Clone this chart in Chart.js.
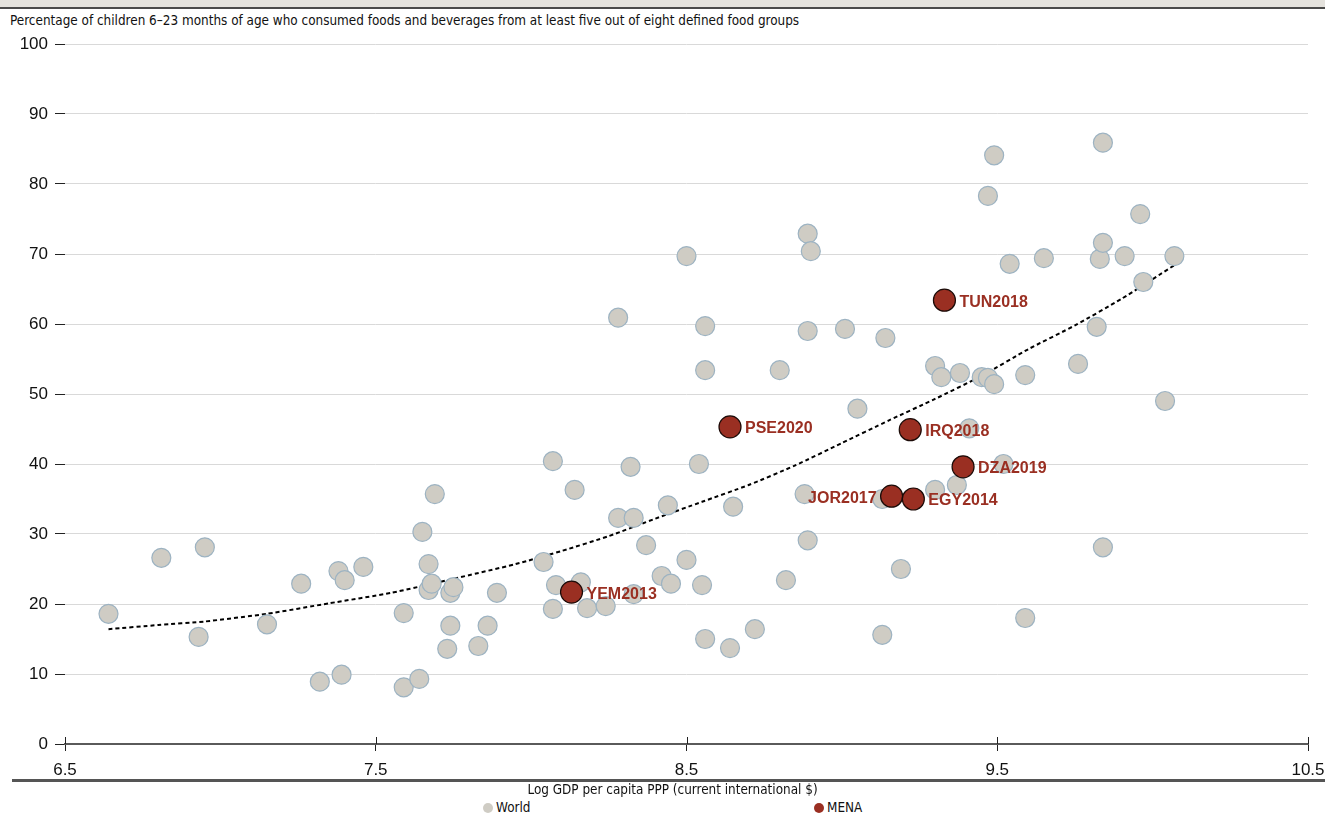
<!DOCTYPE html>
<html>
<head>
<meta charset="utf-8">
<script src="https://cdn.jsdelivr.net/npm/chart.js@4.4.1/dist/chart.umd.min.js"></script>
<style>
  body { margin: 0; background: #fff; width: 1325px; height: 817px; position: relative; overflow: hidden; font-family: "Liberation Sans", Arial, sans-serif; }
  #topband { position: absolute; left: 0; top: 0; width: 1325px; height: 7px; background: #e4e2dd; border-bottom: 2px solid #4a4a4a; }
  .narrow { font-family: "Liberation Sans Narrow", "DejaVu Sans Condensed", sans-serif; color: #111; }
  #subtitle { position: absolute; left: 10px; top: 13px; font-size: 13.4px; white-space: nowrap; }
  #wrap { position: absolute; left: 0; top: 28px; width: 1325px; height: 752px; }
  #rule { position: absolute; left: 12px; top: 779px; width: 1313px; height: 0; border-top: 3px solid #555; }
  #xtitle { position: absolute; left: 0; width: 1345px; top: 782px; text-align: center; font-size: 13.4px; }
  .leg { position: absolute; top: 800px; font-size: 13.4px; white-space: nowrap; }
  .dot { display: inline-block; width: 10px; height: 10px; border-radius: 50%; vertical-align: -1px; margin-right: 3px; }
</style>
</head>
<body>
<div id="topband"></div>
<div id="subtitle" class="narrow">Percentage of children 6–23 months of age who consumed foods and beverages from at least five out of eight defined food groups</div>
<div id="wrap"><canvas id="chart"></canvas></div>
<div id="rule"></div>
<div id="xtitle" class="narrow">Log GDP per capita PPP (current international $)</div>
<div class="leg narrow" style="left:483px"><span class="dot" style="background:#cfccc4"></span>World</div>
<div class="leg narrow" style="left:814px"><span class="dot" style="background:#9a2f22"></span>MENA</div>

<script>
// World countries: log GDP per capita vs share meeting minimum dietary diversity
const worldX = [6.64, 6.81, 6.95, 6.93, 7.15, 7.26, 7.32, 7.38, 7.40, 7.39, 7.46, 7.59, 7.59, 7.64, 7.65, 7.67, 7.67, 7.68, 7.69, 7.73,
  7.74, 7.74, 7.75, 7.83, 7.86, 7.89, 8.04, 8.07, 8.07, 8.08, 8.14, 8.16, 8.18, 8.24, 8.28, 8.28, 8.32, 8.33, 8.33, 8.37,
  8.42, 8.44, 8.45, 8.50, 8.50, 8.54, 8.55, 8.56, 8.56, 8.56, 8.64, 8.65, 8.72, 8.80, 8.82, 8.88, 8.89, 8.89, 8.89, 8.90,
  9.01, 9.05, 9.13, 9.14, 9.13, 9.19, 9.30, 9.30, 9.32, 9.37, 9.38, 9.41, 9.45, 9.47, 9.47, 9.49, 9.49, 9.52, 9.54, 9.59,
  9.59, 9.65, 9.76, 9.82, 9.83, 9.84, 9.84, 9.84, 9.91, 9.96, 9.97, 10.04, 10.07];
const worldY = [18.6, 26.6, 28.1, 15.3, 17.1, 22.9, 8.9, 24.7, 23.4, 9.9, 25.3, 18.7, 8.1, 9.3, 30.3, 25.7, 22.0, 22.9, 35.7, 13.6,
  16.9, 21.6, 22.4, 14.0, 16.9, 21.6, 26.0, 40.4, 19.3, 22.7, 36.3, 23.1, 19.4, 19.7, 32.3, 60.9, 39.6, 21.4, 32.3, 28.4,
  24.0, 34.1, 22.9, 26.3, 69.7, 40.0, 22.7, 15.0, 59.7, 53.4, 13.7, 33.9, 16.4, 53.4, 23.4, 35.7, 29.1, 59.0, 72.9, 70.4,
  59.3, 47.9, 15.6, 58.0, 35.0, 25.0, 54.0, 36.3, 52.4, 37.0, 53.0, 45.1, 52.4, 78.3, 52.3, 84.1, 51.4, 40.0, 68.6, 52.7,
  18.0, 69.4, 54.3, 59.6, 69.3, 71.6, 85.9, 28.1, 69.7, 75.7, 66.0, 49.0, 69.7];

// MENA countries, labelled with survey year
const menaLabels = ['YEM2013', 'PSE2020', 'JOR2017', 'IRQ2018', 'EGY2014', 'TUN2018', 'DZA2019'];
const menaX = [8.13, 8.64, 9.16, 9.22, 9.23, 9.33, 9.39];
const menaY = [21.7, 45.3, 35.4, 44.9, 35.0, 63.4, 39.6];

// fitted trend line
const trendX = [6.64, 6.80, 6.95, 7.15, 7.35, 7.55, 7.75, 7.95, 8.10, 8.25, 8.40, 8.55, 8.70, 8.85, 9.00, 9.15, 9.30, 9.45, 9.60, 9.75, 9.90, 10.07];
const trendY = [16.4, 17.0, 17.5, 18.6, 20.1, 21.6, 23.6, 25.7, 27.6, 29.7, 32.2, 34.6, 37.0, 39.8, 43.0, 46.2, 49.3, 52.6, 56.4, 59.8, 63.6, 68.4];

const yTicks = [0, 10, 20, 30, 40, 50, 60, 70, 80, 90, 100];
const xTicks = [6.5, 7.5, 8.5, 9.5, 10.5];

const red = '#9a2f22';
const leftLabels = ['JOR2017'];
const tickFont = { family: '"Liberation Sans", Arial, sans-serif', size: 17 };

const pointLabels = {
    id: 'pointLabels',
    afterDatasetsDraw(chart) {
        const meta = chart.getDatasetMeta(0);
        const ctx = chart.ctx;
        ctx.save();
        ctx.font = 'bold 16px "Liberation Sans", Arial, sans-serif';
        ctx.fillStyle = red;
        ctx.textBaseline = 'middle';
        meta.data.forEach((pt, i) => {
            const name = menaLabels[i];
            if (leftLabels.includes(name)) {
                ctx.textAlign = 'right';
                ctx.fillText(name, pt.x - 15, pt.y + 2);
            } else {
                ctx.textAlign = 'left';
                ctx.fillText(name, pt.x + 15, pt.y + 2);
            }
        });
        ctx.restore();
    }
};

// x tick marks cross the axis line, as in the source figure
const crossTicks = {
    id: 'crossTicks',
    afterDraw(chart) {
        const xs = chart.scales.x;
        const ctx = chart.ctx;
        ctx.save();
        ctx.strokeStyle = '#222';
        ctx.lineWidth = 1;
        xs.ticks.forEach(t => {
            const px = Math.round(xs.getPixelForValue(t.value)) + 0.5;
            ctx.beginPath();
            ctx.moveTo(px, xs.top - 7);
            ctx.lineTo(px, xs.top);
            ctx.stroke();
        });
        ctx.restore();
    }
};

new Chart(document.getElementById('chart'), {
    type: 'scatter',
    data: {
        datasets: [{
            label: 'MENA',
            data: menaX.map((x, i) => ({ x: x, y: menaY[i] })),
            backgroundColor: red,
            borderColor: '#1b0b08',
            borderWidth: 1.2,
            pointRadius: 11,
            pointHoverRadius: 11,
            order: 1
        }, {
            label: 'World',
            data: worldX.map((x, i) => ({ x: x, y: worldY[i] })),
            backgroundColor: '#cfccc4',
            borderColor: '#9db3c2',
            borderWidth: 1.2,
            pointRadius: 9.5,
            pointHoverRadius: 9.5,
            order: 2
        }, {
            label: 'Trend',
            type: 'line',
            data: trendX.map((x, i) => ({ x: x, y: trendY[i] })),
            borderColor: '#000',
            borderWidth: 2,
            borderDash: [4, 3],
            pointRadius: 0,
            fill: false,
            tension: 0.2,
            order: 3
        }]
    },
    options: {
        responsive: true,
        maintainAspectRatio: false,
        animation: false,
        layout: { padding: { top: 16, right: 17, bottom: 0, left: 0 } },
        plugins: { legend: { display: false }, tooltip: { enabled: false } },
        scales: {
            x: {
                type: 'linear',
                min: xTicks[0],
                max: xTicks[xTicks.length - 1],
                afterBuildTicks: s => { s.ticks = xTicks.map(v => ({ value: v })); },
                afterFit: s => { s.height = 36; s.paddingLeft = 0; s.paddingRight = 0; },
                border: { display: true, color: '#5a5a5a', width: 2 },
                grid: { drawOnChartArea: false, drawTicks: true, tickLength: 7, tickColor: '#222', tickWidth: 1 },
                ticks: { padding: 9, color: '#111', font: tickFont }
            },
            y: {
                min: 0,
                max: 100,
                afterBuildTicks: s => { s.ticks = yTicks.map(v => ({ value: v })); },
                afterFit: s => { s.width = 65; s.paddingTop = 0; s.paddingBottom = 0; },
                border: { display: false },
                grid: {
                    color: c => c.tick && c.tick.value === 0 ? 'rgba(0,0,0,0)' : '#d9d9d9',
                    lineWidth: 1,
                    tickLength: 10,
                    tickColor: '#222'
                },
                ticks: { padding: 7, color: '#111', font: tickFont }
            }
        }
    },
    plugins: [pointLabels, crossTicks]
});
</script>
</body>
</html>
